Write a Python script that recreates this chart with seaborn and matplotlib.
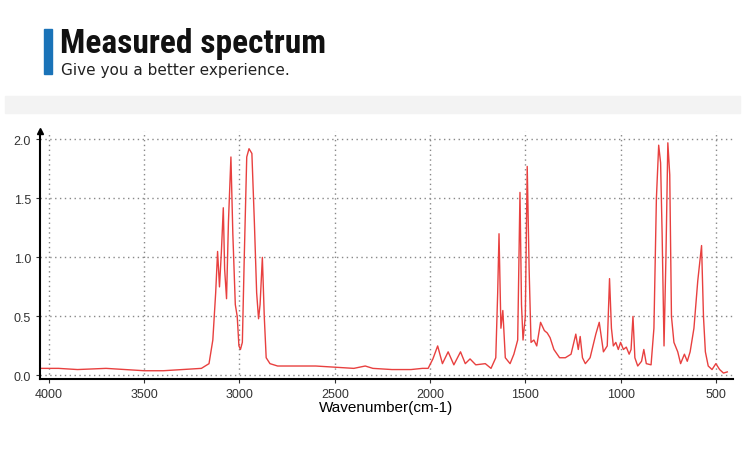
import matplotlib
matplotlib.use("Agg")
import matplotlib.pyplot as plt
import seaborn as sns
import pandas as pd
from matplotlib.patches import Rectangle
from matplotlib import font_manager

# (wavenumber, absorbance)
spectrum_points = [
    (4040, 0.06), (3950, 0.06), (3850, 0.05), (3700, 0.06), (3600, 0.05), (3500, 0.04),
    (3400, 0.04), (3300, 0.05), (3200, 0.06), (3160, 0.10), (3140, 0.30), (3125, 0.70),
    (3115, 1.05), (3105, 0.75), (3095, 1.05), (3085, 1.42), (3078, 0.90), (3068, 0.65),
    (3058, 1.30), (3045, 1.85), (3035, 1.20), (3022, 0.60), (3012, 0.50), (3003, 0.25),
    (2995, 0.22), (2985, 0.28), (2975, 1.00), (2962, 1.85), (2950, 1.92), (2935, 1.88),
    (2922, 1.30), (2910, 0.70), (2900, 0.48), (2892, 0.60), (2880, 1.00), (2870, 0.50),
    (2860, 0.15), (2840, 0.10), (2800, 0.08), (2700, 0.08), (2600, 0.08), (2500, 0.07),
    (2400, 0.06), (2340, 0.08), (2300, 0.06), (2200, 0.05), (2100, 0.05), (2040, 0.06),
    (2010, 0.06), (1985, 0.14), (1960, 0.25), (1935, 0.10), (1905, 0.20), (1875, 0.09),
    (1840, 0.20), (1815, 0.10), (1790, 0.14), (1760, 0.09), (1710, 0.10), (1680, 0.06),
    (1655, 0.15), (1645, 0.70), (1638, 1.20), (1628, 0.40), (1618, 0.55), (1605, 0.15),
    (1580, 0.10), (1560, 0.18), (1540, 0.30), (1528, 1.55), (1520, 0.60), (1512, 0.30),
    (1500, 0.50), (1490, 1.77), (1480, 0.90), (1470, 0.28), (1455, 0.30), (1440, 0.25),
    (1420, 0.45), (1400, 0.38), (1385, 0.36), (1370, 0.32), (1350, 0.22), (1320, 0.15),
    (1290, 0.15), (1260, 0.18), (1235, 0.35), (1222, 0.22), (1212, 0.33), (1200, 0.15),
    (1185, 0.10), (1160, 0.15), (1130, 0.35), (1112, 0.45), (1090, 0.20), (1070, 0.25),
    (1058, 0.82), (1048, 0.40), (1038, 0.25), (1025, 0.28), (1012, 0.22), (1000, 0.28),
    (985, 0.22), (970, 0.24), (955, 0.18), (945, 0.22), (935, 0.50), (925, 0.15),
    (910, 0.08), (890, 0.12), (878, 0.22), (865, 0.10), (840, 0.09), (825, 0.40),
    (812, 1.50), (800, 1.95), (790, 1.80), (782, 1.20), (772, 0.25), (762, 1.00),
    (752, 1.97), (742, 1.70), (733, 0.50), (720, 0.28), (700, 0.20), (685, 0.10),
    (665, 0.18), (650, 0.12), (635, 0.20), (615, 0.40), (595, 0.80), (575, 1.10),
    (565, 0.50), (555, 0.20), (540, 0.08), (520, 0.05), (500, 0.10), (480, 0.05),
    (460, 0.02), (440, 0.03),
]
wavenumber = [p[0] for p in spectrum_points]
absorbance = [p[1] for p in spectrum_points]
x_ticks = [4000, 3500, 3000, 2500, 2000, 1500, 1000, 500]
y_ticks = [0.0, 0.5, 1.0, 1.5, 2.0]

df = pd.DataFrame({"wavenumber": wavenumber, "absorbance": absorbance})

names = {f.name for f in font_manager.fontManager.ttflist}
if "Roboto Condensed" in names:
    title_font, title_size = "Roboto Condensed", 24
else:
    title_font, title_size = "Roboto", 20
plt.rcParams["font.family"] = "Liberation Sans"

fig = plt.figure(figsize=(7.5, 4.64), dpi=100)
fig.patch.set_facecolor("white")
fig.patches.append(Rectangle((44/750, 1-75/464), 8/750, 45/464, transform=fig.transFigure, color="#1a73b8"))
fig.patches.append(Rectangle((5/750, 1-114/464), 735/750, 17/464, transform=fig.transFigure, color="#f3f3f3"))
fig.text(60/750, 1-44/464, "Measured spectrum", fontsize=title_size, fontweight="bold", family=title_font,
         va="center", ha="left", color="#111111")
fig.text(61/750, 1-70/464, "Give you a better experience.", fontsize=11, va="center", ha="left",
         color="#222222", family="DejaVu Sans")

ax = fig.add_axes([40/750, 1-380/464, 693/750, 248/464])
sns.lineplot(data=df, x="wavenumber", y="absorbance", ax=ax, color="#e8403f", linewidth=1.0, sort=False)
ax.set_xlim(4047, 410)
ax.set_ylim(-0.03, 2.07)
ax.set_xticks(x_ticks)
ax.set_yticks(y_ticks)
ax.set_yticklabels([f"{v:.1f}" for v in y_ticks])
ax.grid(True, linestyle=(0, (1, 2.5)), color="#888888", linewidth=1)
for s in ["top", "right"]:
    ax.spines[s].set_visible(False)
ax.spines["left"].set_linewidth(1.5)
ax.spines["bottom"].set_linewidth(1.5)
ax.tick_params(labelsize=9, length=3, colors="#333333")
ax.set_xlabel("Wavenumber(cm-1)", fontsize=11, labelpad=0)
ax.set_ylabel("")
ax.plot(0, 1, "^k", transform=ax.transAxes, clip_on=False, markersize=4)
fig.savefig("out.png", dpi=100)
